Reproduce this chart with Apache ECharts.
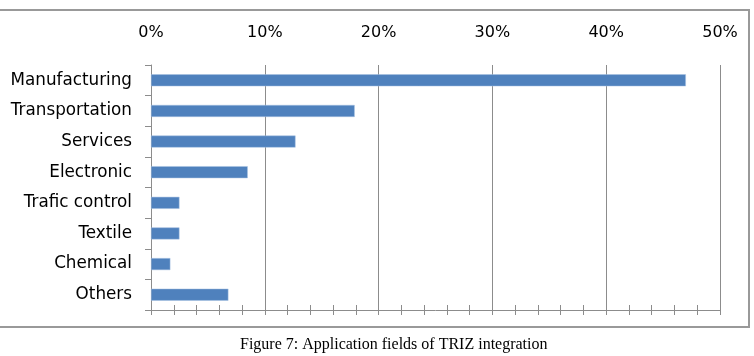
<!DOCTYPE html>
<html>
<head>
<meta charset="utf-8">
<script src="https://cdn.jsdelivr.net/npm/echarts@6/dist/echarts.min.js"></script>
<style>
  html, body { margin: 0; padding: 0; background: #fff; }
  #chart { width: 754px; height: 356px; }
</style>
</head>
<body>
<div id="chart"></div>
<script>
// 应用领域与占比 (%)
var categories = ['Manufacturing', 'Transportation', 'Services', 'Electronic', 'Trafic control', 'Textile', 'Chemical', 'Others'];
var shares = [47, 17.9, 12.7, 8.5, 2.5, 2.5, 1.7, 6.8];
var caption = 'Figure 7: Application fields of TRIZ integration';

var myChart = echarts.init(document.getElementById('chart'));
var gray = '#8c8c8c';

let option = {
  animation: false,
  grid: {
    left: 151,
    right: 34,
    top: 65,
    bottom: 46,
  },
  graphic: [
    {
      type: 'rect',
      shape: { x: -5, y: 10, width: 754, height: 317 },
      style: { fill: 'none', stroke: '#999', lineWidth: 2 },
    },
    {
      type: 'text',
      left: 240,
      top: 337,
      style: {
        text: caption,
        font: '16px "Liberation Serif"',
        fill: '#000',
      },
    },
  ],
  xAxis: [
    {
      // 顶部刻度标签 + 网格线
      type: 'value',
      position: 'top',
      min: 0,
      max: 50,
      interval: 10,
      axisLine: { show: false },
      axisTick: { show: false },
      axisLabel: {
        formatter: '{value}%',
        fontFamily: 'DejaVu Sans',
        fontSize: 16,
        color: '#000',
        margin: 24,
      },
      splitLine: { show: true, lineStyle: { color: gray, width: 1 } },
    },
    {
      // 底部坐标轴，小刻度向下
      type: 'value',
      position: 'bottom',
      min: 0,
      max: 50,
      interval: 2,
      axisLine: { show: true, lineStyle: { color: gray } },
      axisTick: { show: true, length: 5, lineStyle: { color: gray } },
      axisLabel: { show: false },
      splitLine: { show: false },
    },
    {
      // 底部小刻度向上
      type: 'value',
      position: 'bottom',
      min: 0,
      max: 50,
      interval: 2,
      axisLine: { show: false },
      axisTick: { show: true, inside: true, length: 5, lineStyle: { color: gray } },
      axisLabel: { show: false },
      splitLine: { show: false },
    },
  ],
  yAxis: {
    type: 'category',
    data: categories,
    inverse: true,
    axisLine: { show: true, lineStyle: { color: gray } },
    axisTick: { show: true, length: 6, lineStyle: { color: gray } },
    axisLabel: {
      fontFamily: 'DejaVu Sans',
      fontSize: 16.8,
      color: '#000',
      margin: 19,
      padding: [2, 0, 0, 0],
    },
  },
  series: [
    {
      type: 'bar',
      data: shares,
      barWidth: 12,
      itemStyle: {
        color: '#4f81bd',
        borderColor: '#a9c3e3',
        borderWidth: 0.5,
      },
    },
  ],
};
myChart.setOption(option);
</script>
</body>
</html>
